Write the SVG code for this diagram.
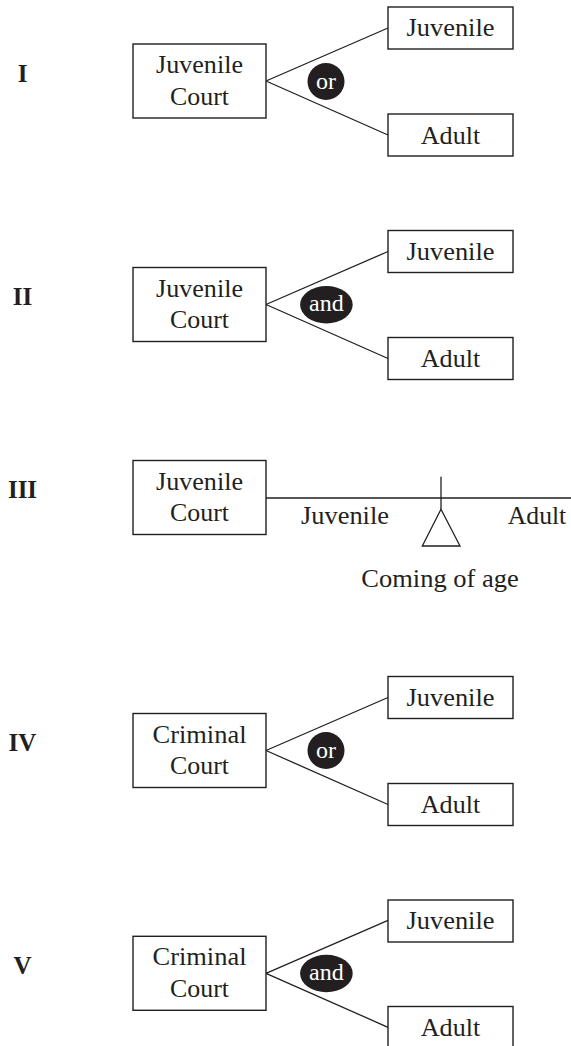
<svg xmlns="http://www.w3.org/2000/svg" width="571" height="1046" viewBox="0 0 571 1046">
<style>
.box{fill:#fff;stroke:#231f20;stroke-width:1.4}
.ln{fill:none;stroke:#231f20;stroke-width:1.3}
.t{font-family:"Liberation Serif","Times New Roman",serif;font-size:25px;fill:#231f20;text-anchor:middle}
.r{font-family:"Liberation Serif","Times New Roman",serif;font-size:25px;font-weight:bold;fill:#231f20;text-anchor:middle}
.w{font-family:"Liberation Serif","Times New Roman",serif;font-size:24px;fill:#fff;text-anchor:middle}
.blk{fill:#231f20}
</style>
<rect width="571" height="1046" fill="#fff"/>

<g id="connectors">
  <path class="ln" d="M266 81 L388 28 M266 81 L388 135"/>
  <path class="ln" d="M266 304.5 L388 251.5 M266 304.5 L388 358.5"/>
  <path class="ln" d="M266 498 L571 498 M441 476.7 L441 509.3"/>
  <path class="ln" d="M266 750.5 L388 697.5 M266 750.5 L388 804.5"/>
  <path class="ln" d="M266 973.3 L388 920.3 M266 973.3 L388 1027.3"/>
</g>

<!-- Panel I -->
<g id="label-I"><text class="r" x="22.5" y="81.5">I</text></g>
<g id="p1-court">
  <rect class="box" x="133" y="44" width="133" height="74"/>
  <text class="t" x="199.5" y="73" textLength="87" lengthAdjust="spacingAndGlyphs">Juvenile</text>
  <text class="t" x="199.5" y="104.5" textLength="59" lengthAdjust="spacingAndGlyphs">Court</text>
</g>
<g id="p1-or">
  <circle class="blk" cx="326" cy="81.5" r="18.5"/>
  <text class="w" x="326" y="88.5">or</text>
</g>
<g id="p1-juvenile">
  <rect class="box" x="388" y="7" width="125" height="42"/>
  <text class="t" x="450.5" y="36" textLength="88" lengthAdjust="spacingAndGlyphs">Juvenile</text>
</g>
<g id="p1-adult">
  <rect class="box" x="388" y="114" width="125" height="42"/>
  <text class="t" x="450.5" y="143.5" textLength="59.5" lengthAdjust="spacingAndGlyphs">Adult</text>
</g>

<!-- Panel II -->
<g id="label-II"><text class="r" x="22.5" y="304.5">II</text></g>
<g id="p2-court">
  <rect class="box" x="133" y="267.5" width="133" height="74"/>
  <text class="t" x="199.5" y="296.5" textLength="87" lengthAdjust="spacingAndGlyphs">Juvenile</text>
  <text class="t" x="199.5" y="328" textLength="59" lengthAdjust="spacingAndGlyphs">Court</text>
</g>
<g id="p2-and">
  <ellipse class="blk" cx="326.4" cy="304.7" rx="26.3" ry="18.7"/>
  <text class="w" x="326.4" y="311">and</text>
</g>
<g id="p2-juvenile">
  <rect class="box" x="388" y="230.5" width="125" height="42"/>
  <text class="t" x="450.5" y="259.5" textLength="88" lengthAdjust="spacingAndGlyphs">Juvenile</text>
</g>
<g id="p2-adult">
  <rect class="box" x="388" y="337.5" width="125" height="42"/>
  <text class="t" x="450.5" y="367" textLength="59.5" lengthAdjust="spacingAndGlyphs">Adult</text>
</g>

<!-- Panel III -->
<g id="label-III"><text class="r" x="22.5" y="498">III</text></g>
<g id="p3-court">
  <rect class="box" x="133" y="460.5" width="133" height="74"/>
  <text class="t" x="199.5" y="489.5" textLength="87" lengthAdjust="spacingAndGlyphs">Juvenile</text>
  <text class="t" x="199.5" y="521" textLength="59" lengthAdjust="spacingAndGlyphs">Court</text>
</g>
<g id="p3-scale">
  <polygon class="ln" points="441,509.3 422.3,546 460,546"/>
  <text class="t" x="345" y="523.5" textLength="88" lengthAdjust="spacingAndGlyphs">Juvenile</text>
  <text class="t" x="537" y="524" textLength="58.5" lengthAdjust="spacingAndGlyphs">Adult</text>
  <text class="t" x="440" y="587" textLength="157.5" lengthAdjust="spacingAndGlyphs">Coming of age</text>
</g>

<!-- Panel IV -->
<g id="label-IV"><text class="r" x="22.5" y="751">IV</text></g>
<g id="p4-court">
  <rect class="box" x="133" y="713.5" width="133" height="74"/>
  <text class="t" x="199.5" y="742.5" textLength="94" lengthAdjust="spacingAndGlyphs">Criminal</text>
  <text class="t" x="199.5" y="774" textLength="59" lengthAdjust="spacingAndGlyphs">Court</text>
</g>
<g id="p4-or">
  <circle class="blk" cx="326" cy="750.5" r="18.5"/>
  <text class="w" x="326" y="757.5">or</text>
</g>
<g id="p4-juvenile">
  <rect class="box" x="388" y="676.5" width="125" height="42"/>
  <text class="t" x="450.5" y="705.5" textLength="88" lengthAdjust="spacingAndGlyphs">Juvenile</text>
</g>
<g id="p4-adult">
  <rect class="box" x="388" y="783.5" width="125" height="42"/>
  <text class="t" x="450.5" y="813" textLength="59.5" lengthAdjust="spacingAndGlyphs">Adult</text>
</g>

<!-- Panel V -->
<g id="label-V"><text class="r" x="22.5" y="973.5">V</text></g>
<g id="p5-court">
  <rect class="box" x="133" y="936.3" width="133" height="74"/>
  <text class="t" x="199.5" y="965.3" textLength="94" lengthAdjust="spacingAndGlyphs">Criminal</text>
  <text class="t" x="199.5" y="996.8" textLength="59" lengthAdjust="spacingAndGlyphs">Court</text>
</g>
<g id="p5-and">
  <ellipse class="blk" cx="326.4" cy="973.5" rx="26.3" ry="18.7"/>
  <text class="w" x="326.4" y="979.8">and</text>
</g>
<g id="p5-juvenile">
  <rect class="box" x="388" y="900" width="125" height="42"/>
  <text class="t" x="450.5" y="929" textLength="88" lengthAdjust="spacingAndGlyphs">Juvenile</text>
</g>
<g id="p5-adult">
  <rect class="box" x="388" y="1006.5" width="125" height="42"/>
  <text class="t" x="450.5" y="1036" textLength="59.5" lengthAdjust="spacingAndGlyphs">Adult</text>
</g>
</svg>
